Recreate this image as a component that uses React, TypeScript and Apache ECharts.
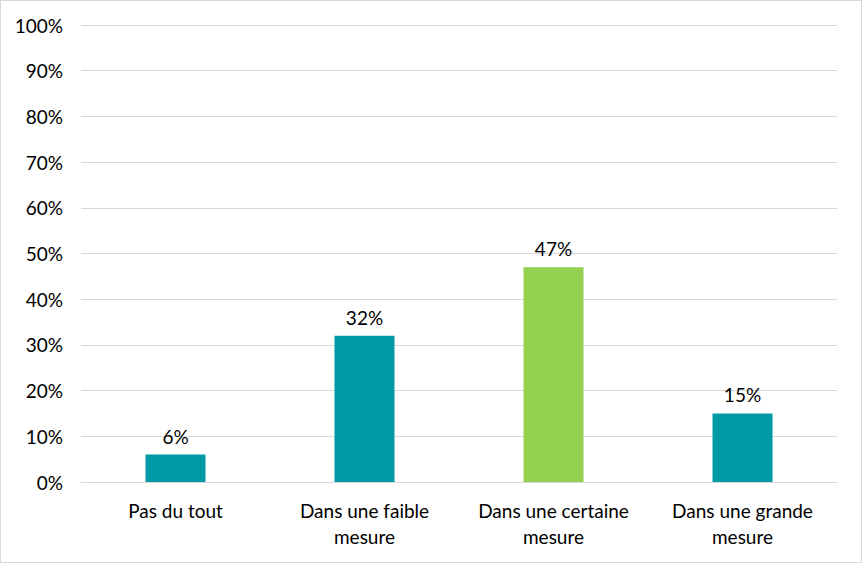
import React, { useEffect, useRef } from "react";
import * as echarts from "echarts";

const categories = ["Pas du tout", "Dans une faible\nmesure", "Dans une certaine\nmesure", "Dans une grande\nmesure"];
const values = [6, 32, 47, 15];
const barColors = ["#009AA6", "#009AA6", "#92D050", "#009AA6"];

export default function App() {
  const ref = useRef<HTMLDivElement>(null);
  useEffect(() => {
    document.body.style.margin = "0";
    const chart = echarts.init(ref.current!, null, { renderer: "svg" });
    chart.setOption({
      animation: false,
      grid: { left: 80, right: 24, top: 24, bottom: 80 },
      textStyle: { fontFamily: "Lato" },
      xAxis: {
        type: "category",
        data: categories,
        axisLine: { lineStyle: { color: "#D9D9D9" } },
        axisTick: { show: false },
        axisLabel: { color: "#000", fontSize: 19, lineHeight: 26, margin: 15, interval: 0, fontFamily: "Lato" },
      },
      yAxis: {
        type: "value",
        min: 0,
        max: 100,
        interval: 10,
        axisLine: { show: false },
        axisTick: { show: false },
        splitLine: { lineStyle: { color: "#D9D9D9" } },
        axisLabel: { color: "#000", fontSize: 19, margin: 18, formatter: "{value}%", fontFamily: "Lato" },
      },
      series: [
        {
          type: "bar",
          barWidth: 60,
          data: values.map((v, i) => ({ value: v, itemStyle: { color: barColors[i] } })),
          label: {
            show: true,
            position: "top",
            distance: 9,
            color: "#000",
            fontSize: 19,
            fontFamily: "Lato",
            formatter: "{c}%",
          },
        },
      ],
    });
    return () => chart.dispose();
  }, []);
  return (
    <div
      ref={ref}
      style={{ width: 862, height: 563, boxSizing: "border-box", border: "1px solid #D9D9D9", background: "#fff" }}
    />
  );
}
